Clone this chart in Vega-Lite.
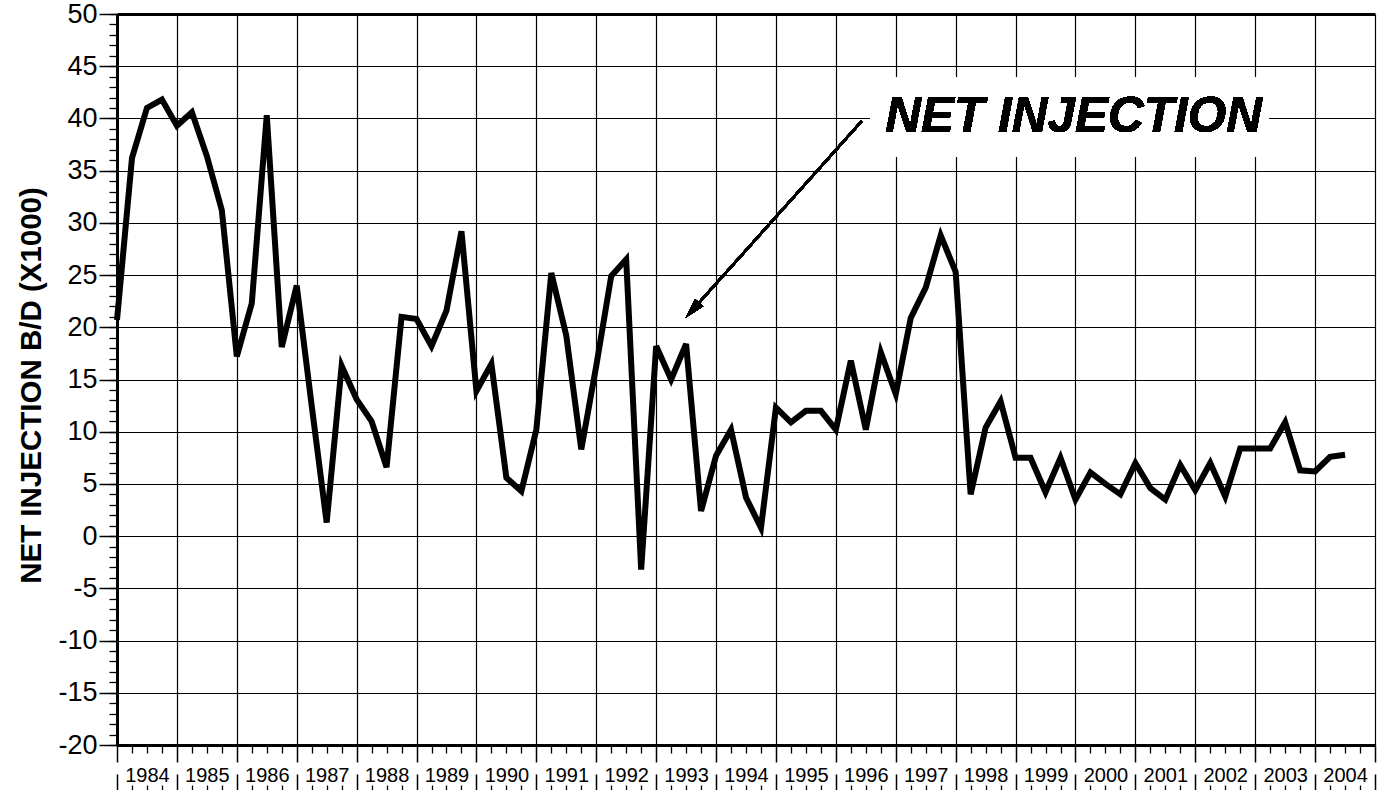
{
  "$schema": "https://vega.github.io/schema/vega-lite/v6.json",
  "width": 1258,
  "height": 731,
  "autosize": "none",
  "padding": {"left": 117, "top": 14, "right": 2, "bottom": 45},
  "background": "white",
  "config": {"view": {"stroke": null}, "font": "Liberation Sans"},
  "data": {"values": [
    {"t": 1984.00, "v": 20.7}, {"t": 1984.25, "v": 36.2}, {"t": 1984.50, "v": 41.0}, {"t": 1984.75, "v": 41.8},
    {"t": 1985.00, "v": 39.3}, {"t": 1985.25, "v": 40.6}, {"t": 1985.50, "v": 36.4}, {"t": 1985.75, "v": 31.2},
    {"t": 1986.00, "v": 17.2}, {"t": 1986.25, "v": 22.3}, {"t": 1986.50, "v": 40.3}, {"t": 1986.75, "v": 18.1},
    {"t": 1987.00, "v": 24.0}, {"t": 1987.25, "v": 12.5}, {"t": 1987.50, "v": 1.3}, {"t": 1987.75, "v": 16.3},
    {"t": 1988.00, "v": 13.1}, {"t": 1988.25, "v": 11.0}, {"t": 1988.50, "v": 6.6}, {"t": 1988.75, "v": 21.0},
    {"t": 1989.00, "v": 20.8}, {"t": 1989.25, "v": 18.2}, {"t": 1989.50, "v": 21.6}, {"t": 1989.75, "v": 29.2},
    {"t": 1990.00, "v": 13.9}, {"t": 1990.25, "v": 16.5}, {"t": 1990.50, "v": 5.6}, {"t": 1990.75, "v": 4.3},
    {"t": 1991.00, "v": 10.2}, {"t": 1991.25, "v": 25.2}, {"t": 1991.50, "v": 19.2}, {"t": 1991.75, "v": 8.3},
    {"t": 1992.00, "v": 16.3}, {"t": 1992.25, "v": 24.9}, {"t": 1992.50, "v": 26.5}, {"t": 1992.75, "v": -3.2},
    {"t": 1993.00, "v": 18.2}, {"t": 1993.25, "v": 15.0}, {"t": 1993.50, "v": 18.4}, {"t": 1993.75, "v": 2.4},
    {"t": 1994.00, "v": 7.7}, {"t": 1994.25, "v": 10.2}, {"t": 1994.50, "v": 3.7}, {"t": 1994.75, "v": 0.8},
    {"t": 1995.00, "v": 12.3}, {"t": 1995.25, "v": 10.9}, {"t": 1995.50, "v": 12.0}, {"t": 1995.75, "v": 12.0},
    {"t": 1996.00, "v": 10.2}, {"t": 1996.25, "v": 16.8}, {"t": 1996.50, "v": 10.2}, {"t": 1996.75, "v": 17.6},
    {"t": 1997.00, "v": 13.6}, {"t": 1997.25, "v": 20.9}, {"t": 1997.50, "v": 23.8}, {"t": 1997.75, "v": 28.8},
    {"t": 1998.00, "v": 25.3}, {"t": 1998.25, "v": 4.0}, {"t": 1998.50, "v": 10.4}, {"t": 1998.75, "v": 12.9},
    {"t": 1999.00, "v": 7.5}, {"t": 1999.25, "v": 7.5}, {"t": 1999.50, "v": 4.2}, {"t": 1999.75, "v": 7.5},
    {"t": 2000.00, "v": 3.5}, {"t": 2000.25, "v": 6.1}, {"t": 2000.50, "v": 5.0}, {"t": 2000.75, "v": 4.0},
    {"t": 2001.00, "v": 7.0}, {"t": 2001.25, "v": 4.6}, {"t": 2001.50, "v": 3.5}, {"t": 2001.75, "v": 6.8},
    {"t": 2002.00, "v": 4.4}, {"t": 2002.25, "v": 7.0}, {"t": 2002.50, "v": 3.8}, {"t": 2002.75, "v": 8.4},
    {"t": 2003.00, "v": 8.4}, {"t": 2003.25, "v": 8.4}, {"t": 2003.50, "v": 10.9}, {"t": 2003.75, "v": 6.3},
    {"t": 2004.00, "v": 6.2}, {"t": 2004.25, "v": 7.6}, {"t": 2004.50, "v": 7.8}
  ]},
  "layer": [
    {
      "mark": {"type": "line", "color": "black", "strokeWidth": 6},
      "encoding": {
        "x": {
          "field": "t", "type": "quantitative",
          "scale": {"domain": [1984, 2005], "nice": false, "zero": false},
          "axis": {
            "orient": "bottom", "title": null, "labels": false,
            "values": [1984,1985,1986,1987,1988,1989,1990,1991,1992,1993,1994,1995,1996,1997,1998,1999,2000,2001,2002,2003,2004,2005],
            "grid": true, "gridColor": "black", "gridWidth": 1.2, "gridOpacity": 1,
            "ticks": true, "tickSize": 45, "tickColor": "black", "tickWidth": 1.5, "tickDash": [17, 12, 20],
            "domain": true, "domainColor": "black", "domainWidth": 3
          }
        },
        "y": {
          "field": "v", "type": "quantitative",
          "scale": {"domain": [-20, 50], "nice": false, "zero": false},
          "axis": {
            "orient": "left",
            "values": [-20,-15,-10,-5,0,5,10,15,20,25,30,35,40,45,50],
            "labelExpr": "'' + datum.value",
            "grid": true, "gridColor": "black", "gridOpacity": 1,
            "gridWidth": {"condition": {"test": "datum.value == 50", "value": 3}, "value": 1.2},
            "tickSize": 18, "tickColor": "black", "tickWidth": 1.5,
            "domain": true, "domainColor": "black", "domainWidth": 3,
            "labelFont": "Liberation Sans", "labelFontSize": 27, "labelColor": "black", "labelPadding": 2,
            "labelFlush": false, "labelOverlap": false,
            "title": "NET INJECTION B/D (X1000)", "titleFont": "Liberation Sans", "titleFontSize": 29.5,
            "titleFontWeight": "bold", "titleColor": "black", "titleX": -77, "titleY": 371,
            "titleAngle": 270, "titleAlign": "center", "titleBaseline": "alphabetic"
          }
        }
      }
    },
    {
      "mark": {"type": "line", "opacity": 0},
      "encoding": {
        "x": {
          "field": "t", "type": "quantitative",
          "axis": {
            "orient": "bottom", "title": null,
            "values": [1984.5,1985.5,1986.5,1987.5,1988.5,1989.5,1990.5,1991.5,1992.5,1993.5,1994.5,1995.5,1996.5,1997.5,1998.5,1999.5,2000.5,2001.5,2002.5,2003.5,2004.5],
            "labelExpr": "'' + floor(datum.value)",
            "ticks": false, "domain": false, "grid": false,
            "labelFont": "Liberation Sans", "labelFontSize": 20, "labelColor": "black",
            "labelPadding": 20, "labelFlush": false, "labelOverlap": false
          }
        },
        "y": {
          "field": "v", "type": "quantitative",
          "axis": {
            "orient": "left", "title": null, "labels": false, "domain": false, "grid": false,
            "values": [-20,-19,-18,-17,-16,-15,-14,-13,-12,-11,-10,-9,-8,-7,-6,-5,-4,-3,-2,-1,0,1,2,3,4,5,6,7,8,9,10,11,12,13,14,15,16,17,18,19,20,21,22,23,24,25,26,27,28,29,30,31,32,33,34,35,36,37,38,39,40,41,42,43,44,45,46,47,48,49,50],
            "tickSize": 8, "tickColor": "black", "tickWidth": 1.3
          }
        }
      }
    },
    {
      "mark": {"type": "line", "opacity": 0},
      "encoding": {
        "x": {
          "field": "t", "type": "quantitative",
          "axis": {
            "orient": "bottom", "title": null, "labels": false, "domain": false, "grid": false,
            "values": [1984.25,1984.5,1984.75,1985.25,1985.5,1985.75,1986.25,1986.5,1986.75,1987.25,1987.5,1987.75,1988.25,1988.5,1988.75,1989.25,1989.5,1989.75,1990.25,1990.5,1990.75,1991.25,1991.5,1991.75,1992.25,1992.5,1992.75,1993.25,1993.5,1993.75,1994.25,1994.5,1994.75,1995.25,1995.5,1995.75,1996.25,1996.5,1996.75,1997.25,1997.5,1997.75,1998.25,1998.5,1998.75,1999.25,1999.5,1999.75,2000.25,2000.5,2000.75,2001.25,2001.5,2001.75,2002.25,2002.5,2002.75,2003.25,2003.5,2003.75,2004.25,2004.5,2004.75],
            "tickSize": 45, "tickColor": "black", "tickWidth": 1.3, "tickDash": [8, 32, 6]
          }
        },
        "y": {"field": "v", "type": "quantitative", "axis": null}
      }
    },
    {
      "mark": {"type": "rect", "color": "white", "opacity": 1},
      "encoding": {
        "x": {"datum": 1996.57, "type": "quantitative", "axis": null},
        "x2": {"datum": 2003.22},
        "y": {"datum": 43.9, "type": "quantitative", "axis": null},
        "y2": {"datum": 36.3}
      }
    },
    {
      "mark": {"type": "text", "text": "NET INJECTION", "font": "Liberation Sans", "fontSize": 49.5, "fontWeight": "bold", "fontStyle": "italic", "align": "center", "baseline": "alphabetic", "color": "black"},
      "encoding": {
        "x": {"datum": 1999.97, "type": "quantitative", "axis": null},
        "y": {"datum": 38.66, "type": "quantitative", "axis": null}
      }
    },
    {
      "mark": {"type": "rule", "color": "black", "strokeWidth": 2.2},
      "encoding": {
        "x": {"datum": 1996.43, "type": "quantitative", "axis": null},
        "y": {"datum": 39.74, "type": "quantitative", "axis": null},
        "x2": {"datum": 1993.606},
        "y2": {"datum": 21.65}
      }
    },
    {
      "mark": {"type": "point", "shape": "M0,-1L0.55,1L-0.55,1Z", "filled": true, "color": "black", "opacity": 1, "size": 400, "angle": 221.8},
      "encoding": {
        "x": {"datum": 1993.606, "type": "quantitative", "axis": null},
        "y": {"datum": 21.65, "type": "quantitative", "axis": null}
      }
    }
  ],
  "resolve": {"axis": {"x": "independent", "y": "independent"}}
}
